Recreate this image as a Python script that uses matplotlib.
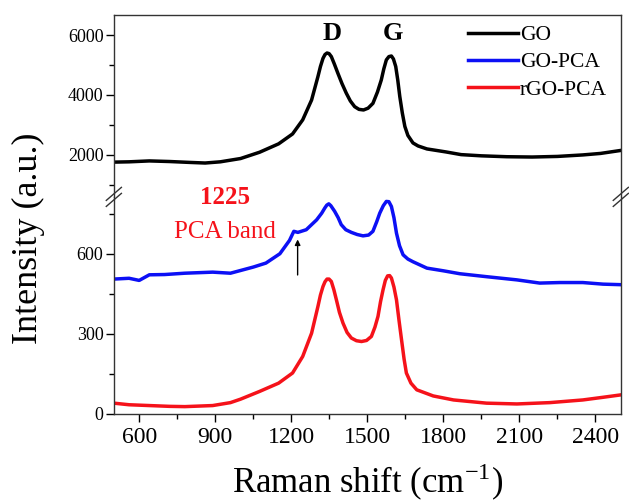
# Raman spectra of GO, GO-PCA and rGO-PCA with a broken intensity axis
import matplotlib
matplotlib.use('Agg')
import matplotlib.pyplot as plt
from matplotlib.lines import Line2D

plt.rcParams['font.family'] = ['Liberation Serif', 'DejaVu Serif']
plt.rcParams['mathtext.fontset'] = 'stix'

# GO (upper panel)
go_x = [500, 560, 640, 720, 800, 860, 920, 1000, 1075, 1150,
        1205, 1245, 1280, 1305, 1315, 1325, 1333, 1341, 1349, 1358,
        1370, 1384, 1400, 1417, 1433, 1450, 1467, 1485, 1503, 1522,
        1540, 1555, 1565, 1575, 1585, 1595, 1603, 1612, 1620, 1628,
        1638, 1648, 1660, 1680, 1700, 1735, 1810, 1870, 1950, 2050,
        2150, 2250, 2350, 2420, 2500]
go_y = [1760, 1770, 1800, 1780, 1750, 1730, 1770, 1880, 2090, 2370,
        2700, 3170, 3830, 4610, 4950, 5220, 5350, 5400, 5380, 5280,
        5030, 4720, 4380, 4060, 3800, 3610, 3520, 3500, 3560, 3720,
        4100, 4500, 4870, 5170, 5280, 5300, 5200, 4950, 4500, 3950,
        3400, 2950, 2650, 2400, 2300, 2200, 2100, 2010, 1970, 1940,
        1930, 1950, 2000, 2050, 2150]

# GO-PCA
gopca_x = [500, 560, 600, 640, 700, 780, 890, 960, 1050, 1100,
           1155, 1193, 1210, 1226, 1259, 1300, 1320, 1332, 1340, 1348,
           1356, 1371, 1385, 1397, 1415, 1437, 1460, 1483, 1505, 1522,
           1537, 1549, 1563, 1575, 1585, 1595, 1605, 1615, 1627, 1641,
           1660, 1680, 1735, 1800, 1865, 1970, 2090, 2180, 2260, 2350,
           2430, 2500]
gopca_y = [505, 508, 500, 521, 522, 527, 531, 527, 550, 565,
           600, 650, 684, 680, 690, 727, 752, 771, 782, 787,
           780, 759, 735, 709, 690, 680, 672, 667, 670, 684,
           720, 752, 780, 796, 795, 777, 735, 677, 630, 596,
           580, 570, 546, 536, 525, 514, 502, 490, 492, 492,
           486, 484]

# rGO-PCA
rgo_x = [500, 560, 640, 720, 780, 890, 960, 1000, 1075, 1150,
         1205, 1245, 1280, 1305, 1315, 1325, 1333, 1341, 1349, 1358,
         1368, 1378, 1390, 1404, 1420, 1437, 1457, 1477, 1497, 1516,
         1530, 1542, 1552, 1562, 1571, 1580, 1588, 1595, 1605, 1615,
         1625, 1635, 1645, 1654, 1672, 1695, 1760, 1840, 1970, 2090,
         2220, 2350, 2430, 2500]
rgo_y = [40, 34, 31, 28, 27, 31, 42, 55, 84, 115,
         153, 215, 302, 402, 445, 477, 495, 505, 505, 496,
         465, 427, 380, 340, 305, 284, 274, 271, 275, 290,
         325, 365, 420, 465, 500, 517, 518, 509, 475, 427,
         350, 277, 205, 153, 115, 90, 67, 52, 40, 37,
         42, 52, 62, 71]

x_ticks = [600, 900, 1200, 1500, 1800, 2100, 2400]
top_ticks = [2000, 4000, 6000]
bot_ticks = [0, 300, 600]

red = '#f5121a'
blue = '#0c10f5'

fig = plt.figure(figsize=(6.29, 5.01), dpi=100)
L, R, B, T, BRK = 0.181, 0.987, 0.174, 0.970, 0.607
ax_top = fig.add_axes([L, BRK, R - L, T - BRK])
ax_bot = fig.add_axes([L, B, R - L, BRK - B], sharex=ax_top)

ax_top.plot(go_x, go_y, color='black', lw=2.5, label='GO')
ax_bot.plot(gopca_x, gopca_y, color=blue, lw=2.5, label='GO-PCA')
ax_bot.plot(rgo_x, rgo_y, color=red, lw=2.5, label='rGO-PCA')

ax_top.set_xlim(500, 2500)
ax_top.set_ylim(600, 6667)
ax_bot.set_ylim(0, 813)

ax_top.set_yticks(top_ticks)
ax_top.set_yticks([1000, 3000, 5000], minor=True)
ax_bot.set_yticks(bot_ticks)
ax_bot.set_yticks([150, 450, 750], minor=True)
ax_bot.set_xticks(x_ticks)
ax_bot.set_xticks([750, 1050, 1350, 1650, 1950, 2250], minor=True)

for ax in (ax_top, ax_bot):
    ax.tick_params(which='major', direction='out', length=5.5, width=1, labelsize=13,
                   right=False, top=False, pad=2)
    ax.tick_params(which='minor', direction='out', length=3.5, width=1,
                   right=False, top=False)
    for s in ax.spines.values():
        s.set_linewidth(1.0)
        s.set_color('#333333')
ax_top.spines['bottom'].set_visible(False)
ax_bot.spines['top'].set_visible(False)
ax_top.tick_params(axis='x', which='both', bottom=False, labelbottom=False)
ax_bot.tick_params(axis='x', which='major', labelsize=17, pad=4)

# break marks on both spines
for xf in (L, R):
    for dy in (-0.006, 0.006):
        fig.add_artist(Line2D([xf - 0.012, xf + 0.012], [BRK + dy - 0.013, BRK + dy + 0.013],
                              transform=fig.transFigure, color='#333333', lw=1))

ax_top.text(1359, 6067, 'D', ha='center', va='center', fontsize=19, fontweight='bold')
ax_top.text(1600, 6067, 'G', ha='center', va='center', fontsize=19, fontweight='bold')

ax_bot.text(937, 810, '1225', ha='center', va='center', fontsize=18, fontweight='bold', color=red)
ax_bot.text(937, 682, 'PCA band', ha='center', va='center', fontsize=18, color=red)
ax_bot.annotate('', xy=(1225, 664), xytext=(1225, 510),
                arrowprops=dict(arrowstyle='-|>', color='black', lw=1, mutation_scale=8))

handles = ax_top.get_lines() + ax_bot.get_lines()
fig.legend(handles, [h.get_label() for h in handles], loc='upper left',
           bbox_to_anchor=(468 / 629, 1 - 25 / 501), frameon=False, fontsize=15.5,
           handlelength=2.3, handletextpad=0.1, labelspacing=0.34, borderpad=0,
           borderaxespad=0)

fig.text(0.585, 0.018, r'Raman shift (cm$^{\mathregular{-1}}$)', ha='center', va='baseline',
         fontsize=25)
fig.text(0.045, 0.525, 'Intensity (a.u.)', ha='center', va='center', rotation=90, fontsize=26)

plt.savefig('out.png', dpi=100)
